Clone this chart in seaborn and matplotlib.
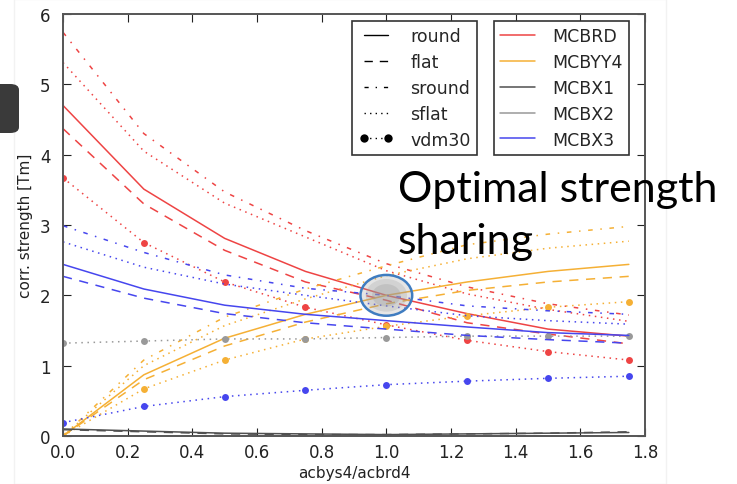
import matplotlib
matplotlib.use("Agg")
import matplotlib.pyplot as plt
from matplotlib.lines import Line2D
from matplotlib.patches import Ellipse, FancyBboxPatch, Rectangle
import seaborn as sns
import pandas as pd

sns.set_style("ticks")
plt.rcParams["font.family"] = ["DejaVu Sans"]

# acbys4/acbrd4 ratio scanned
ratio = [0.0, 0.25, 0.5, 0.75, 1.0, 1.25, 1.5, 1.75]

# corrector strengths [Tm] per magnet and configuration
mcbrd_round = [4.70, 3.51, 2.81, 2.34, 2.00, 1.74, 1.52, 1.42]
mcbrd_flat = [4.37, 3.30, 2.64, 2.19, 1.93, 1.61, 1.45, 1.31]
mcbrd_sround = [5.74, 4.30, 3.47, 2.92, 2.45, 2.12, 1.88, 1.72]
mcbrd_sflat = [5.31, 4.05, 3.31, 2.83, 2.35, 2.02, 1.80, 1.63]
mcbrd_vdm30 = [3.67, 2.75, 2.19, 1.83, 1.58, 1.36, 1.20, 1.08]

mcbyy4_round = [0.0, 0.87, 1.39, 1.73, 2.00, 2.19, 2.34, 2.44]
mcbyy4_flat = [0.0, 0.80, 1.28, 1.62, 1.88, 2.07, 2.19, 2.27]
mcbyy4_sround = [0.0, 1.08, 1.69, 2.09, 2.42, 2.72, 2.87, 2.98]
mcbyy4_sflat = [0.0, 1.00, 1.57, 1.95, 2.28, 2.52, 2.67, 2.77]
mcbyy4_vdm30 = [0.0, 0.67, 1.08, 1.38, 1.56, 1.71, 1.83, 1.91]

mcbx1_round = [0.10, 0.07, 0.04, 0.03, 0.02, 0.03, 0.04, 0.05]
mcbx1_flat = [0.09, 0.06, 0.03, 0.02, 0.02, 0.03, 0.04, 0.06]

mcbx2_vdm30 = [1.32, 1.35, 1.38, 1.38, 1.40, 1.42, 1.42, 1.42]

mcbx3_round = [2.44, 2.09, 1.86, 1.73, 1.64, 1.55, 1.47, 1.43]
mcbx3_flat = [2.27, 1.96, 1.74, 1.61, 1.52, 1.43, 1.37, 1.32]
mcbx3_sround = [2.99, 2.61, 2.29, 2.10, 2.00, 1.85, 1.78, 1.73]
mcbx3_sflat = [2.76, 2.40, 2.16, 2.00, 1.85, 1.71, 1.64, 1.59]
mcbx3_vdm30 = [0.19, 0.42, 0.56, 0.65, 0.73, 0.78, 0.82, 0.85]

magnets = ["MCBRD", "MCBYY4", "MCBX1", "MCBX2", "MCBX3"]
magnet_colors = {"MCBRD": "#ee4444", "MCBYY4": "#f5b035",
                 "MCBX1": "#505050", "MCBX2": "#999999", "MCBX3": "#4646ee"}
configs = ["round", "flat", "sround", "sflat", "vdm30"]
config_styles = {
    "round": dict(linestyle="-"),
    "flat": dict(linestyle=(0, (6, 5))),
    "sround": dict(linestyle=(0, (3, 5, 1, 5))),
    "sflat": dict(linestyle=(0, (1, 3))),
    "vdm30": dict(linestyle=(0, (1, 3)), marker="o", markersize=5,
                  markeredgewidth=0),
}

series = [
    ("MCBRD", "round", mcbrd_round), ("MCBRD", "flat", mcbrd_flat),
    ("MCBRD", "sround", mcbrd_sround), ("MCBRD", "sflat", mcbrd_sflat),
    ("MCBRD", "vdm30", mcbrd_vdm30),
    ("MCBYY4", "round", mcbyy4_round), ("MCBYY4", "flat", mcbyy4_flat),
    ("MCBYY4", "sround", mcbyy4_sround), ("MCBYY4", "sflat", mcbyy4_sflat),
    ("MCBYY4", "vdm30", mcbyy4_vdm30),
    ("MCBX1", "round", mcbx1_round), ("MCBX1", "flat", mcbx1_flat),
    ("MCBX2", "vdm30", mcbx2_vdm30),
    ("MCBX3", "round", mcbx3_round), ("MCBX3", "flat", mcbx3_flat),
    ("MCBX3", "sround", mcbx3_sround), ("MCBX3", "sflat", mcbx3_sflat),
    ("MCBX3", "vdm30", mcbx3_vdm30),
]

fig = plt.figure(figsize=(7.37, 4.85), dpi=100)
fig.patch.set_facecolor("white")
ax = fig.add_axes([63 / 737, 48 / 485, 582 / 737, 422 / 485])

for magnet, config, values in series:
    df = pd.DataFrame({"ratio": ratio, "strength": values})
    sns.lineplot(data=df, x="ratio", y="strength", ax=ax,
                 color=magnet_colors[magnet], linewidth=1.1,
                 legend=False, **config_styles[config])

ax.set_xlim(0, 1.8)
ax.set_ylim(0, 6)
ax.set_xticks([0.0, 0.2, 0.4, 0.6, 0.8, 1.0, 1.2, 1.4, 1.6, 1.8])
ax.set_yticks([0, 1, 2, 3, 4, 5, 6])
ax.set_xticklabels(["0.0", "0.2", "0.4", "0.6", "0.8", "1.0", "1.2", "1.4",
                    "1.6", "1.8"])
ax.tick_params(direction="in", length=6, width=0.8, top=True, right=True,
               labelsize=12, colors="#222222")
ax.tick_params(axis="x", pad=5)
ax.tick_params(axis="y", pad=9)
ax.set_xlabel("acbys4/acbrd4", fontsize=11, color="#222222", labelpad=3)
ax.set_ylabel("corr. strength [Tm]", fontsize=11, color="#222222",
              labelpad=5)
for sp in ax.spines.values():
    sp.set_color("#555555")
    sp.set_linewidth(1.4)

# line-style legend
style_handles = [Line2D([], [], color="black", linewidth=1.0,
                        **config_styles[c]) for c in configs]
style_handles[-1].set_markersize(6)
leg1 = ax.legend(style_handles, configs, loc="upper left",
                 bbox_to_anchor=(0.497, 0.983), borderaxespad=0,
                 fontsize=12.5, frameon=True, fancybox=False,
                 edgecolor="#333333", framealpha=1, handlelength=2.0,
                 labelspacing=0.45, numpoints=2, handletextpad=1.0,
                 borderpad=0.35)
leg1.get_frame().set_linewidth(1.2)
ax.add_artist(leg1)

# magnet colour legend
color_handles = [Line2D([], [], color=magnet_colors[m], linewidth=1.1)
                 for m in magnets]
leg2 = ax.legend(color_handles, magnets, loc="upper left",
                 bbox_to_anchor=(0.741, 0.983), borderaxespad=0,
                 fontsize=12.5, frameon=True, fancybox=False,
                 edgecolor="#333333", framealpha=1, handlelength=2.0,
                 labelspacing=0.45, handletextpad=1.0, borderpad=0.35)
leg2.get_frame().set_linewidth(1.2)

# highlight of the crossing point
for scale, alpha in [(1.0, 0.25), (0.8, 0.25), (0.55, 0.3)]:
    ax.add_patch(Ellipse((1.0, 2.0), 0.16 * scale, 0.58 * scale,
                         facecolor="#9a9a9a", edgecolor="none",
                         alpha=alpha, zorder=5))
ax.add_patch(Ellipse((1.0, 2.0), 0.16, 0.58, facecolor="none",
                     edgecolor="#3f7cc0", linewidth=1.8, zorder=6))

fig.text(398 / 737, 1 - 171 / 485, "Optimal strength\nsharing",
         fontsize=31, family=["Lato", "DejaVu Sans"], color="black",
         va="top", ha="left", linespacing=1.45)

# slide decorations
fig.add_artist(Rectangle((14 / 737, 0), 652 / 737, 1, transform=fig.transFigure,
                         facecolor="none", edgecolor="#f2f2f2", linewidth=1,
                         zorder=-1))
fig.add_artist(FancyBboxPatch((-10 / 737, 351 / 485), 29 / 737, 49 / 485,
                              boxstyle="round,pad=0,rounding_size=0.012",
                              transform=fig.transFigure,
                              facecolor="#3a3a3a", edgecolor="none"))

fig.savefig("out.png", dpi=100, facecolor="white")
